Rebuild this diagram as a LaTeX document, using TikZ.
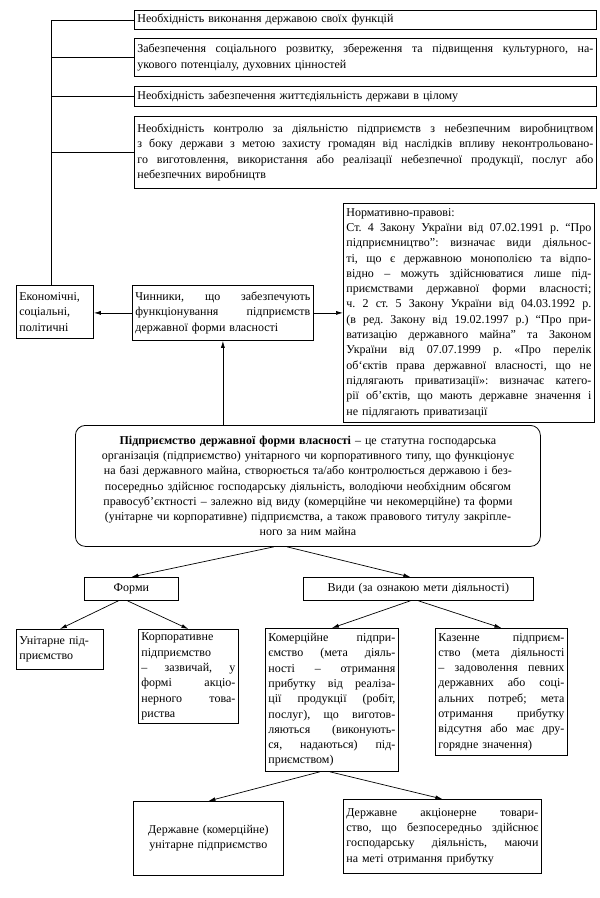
\documentclass[tikz,border=0pt]{standalone}
\usepackage{fontspec}
\setmainfont{Liberation Serif}
\usetikzlibrary{arrows.meta}
\newcommand{\jl}[1]{\leavevmode\hbox to\hsize{\spaceskip=0.25em plus 1em minus 0.06em\relax #1}\\}
\newcommand{\fs}{\fontsize{12}{15.3}\selectfont\frenchspacing}
\tikzset{
  box/.style={draw, line width=0.8pt, anchor=north west, inner xsep=3pt, inner ysep=2pt, font=\fs, align=left},
  arr/.style={line width=0.7pt, -{Latex[length=7pt,width=4pt]}},
  link/.style={line width=0.7pt},
}

\begin{document}
\begin{tikzpicture}[x=1pt,y=-1pt]
  %%%%% START %%%%%
  \useasboundingbox (0,0) rectangle (600,898);

  \node[box, text width=456, minimum height=19] (need1) at (134,10) {Необхідність виконання державою своїх функцій};
  \node[box, text width=456, minimum height=38] (need2) at (134,38) {\jl{Забезпечення соціального розвитку, збереження та підвищення культурного, на-}укового потенціалу, духовних цінностей};
  \node[box, text width=456, minimum height=20] (need3) at (134,86) {Необхідність забезпечення життєдіяльність держави в цілому};
  \node[box, text width=456, minimum height=72] (need4) at (134,116) {\jl{Необхідність контролю за діяльністю підприємств з небезпечним виробництвом}\jl{з боку держави з метою захисту громадян від наслідків впливу неконтрольовано-}\jl{го виготовлення, використання або реалізації небезпечної продукції, послуг або}небезпечних виробництв};

  \node[box, text width=71, minimum height=53] (econ) at (16,285) {Економічні,\\соціальні,\\політичні};
  \node[box, text width=175, minimum height=55] (chin) at (132,285) {\jl{Чинники, що забезпечують}\jl{функціонування підприємств}державної форми власності};
  \node[box, text width=245, minimum height=219] (norm) at (343,203) {Нормативно-правові:\\
    \jl{Ст. 4 Закону України від 07.02.1991 р. “Про}\jl{підприємництво”: визначає види діяльнос-}\jl{ті, що є державною монополією та відпо-}\jl{відно – можуть здійснюватися лише під-}\jl{приємствами державної форми власності;}\jl{ч. 2 ст. 5 Закону України від 04.03.1992 р.}\jl{(в ред. Закону від 19.02.1997 р.) “Про при-}\jl{ватизацію державного майна” та Законом}\jl{України від 07.07.1999 р. «Про перелік}\jl{об`єктів права державної власності, що не}\jl{підлягають приватизації»: визначає катего-}\jl{рії об’єктів, що мають державне значення і}не підлягають приватизації};

  \node[box, text width=457, inner xsep=4pt, minimum height=121, rounded corners=10pt, align=center] (pidpr) at (75,425) {\textbf{Підприємство державної форми власності} – це статутна господарська\\організація (підприємство) унітарного чи корпоративного типу, що функціонує\\на базі державного майна, створюється та/або контролюється державою і без-\\посередньо здійснює господарську діяльність, володіючи необхідним обсягом\\правосуб’єктності – залежно від виду (комерційне чи некомерційне) та форми\\(унітарне чи корпоративне) підприємства, а також правового титулу закріпле-\\ного за ним майна};

  \node[box, text width=88, minimum height=23, align=center] (formy) at (84,577) {Форми};
  \node[box, text width=224, minimum height=23, align=center] (vydy) at (303,577) {Види (за ознакою мети діяльності)};

  \node[box, text width=81, minimum height=40] (unit) at (16,629) {Унітарне під-\\приємство};
  \node[box, text width=94, minimum height=94] (korp) at (138,629) {Корпоративне\\підприємство\\\jl{– зазвичай, у}\jl{формі акціо-}\jl{нерного това-}риства};
  \node[box, text width=127, minimum height=143] (kom) at (265,628) {\jl{Комерційне підпри-}\jl{ємство (мета діяль-}\jl{ності – отримання}\jl{прибутку від реаліза-}\jl{ції продукції (робіт,}\jl{послуг), що виготов-}\jl{ляються (виконують-}\jl{ся, надаються) під-}приємством)};
  \node[box, text width=126, minimum height=127] (kaz) at (435,628) {\jl{Казенне підприєм-}\jl{ство (мета діяльності}\jl{– задоволення певних}\jl{державних або соці-}\jl{альних потреб; мета}\jl{отримання прибутку}\jl{відсутня або має дру-}горядне значення)};

  \node[box, text width=144, minimum height=74, align=center] (du) at (133,801) {Державне (комерційне)\\унітарне підприємство};
  \node[box, text width=192, minimum height=74] (dat) at (343,799) {\jl{Державне акціонерне товари-}\jl{ство, що безпосередньо здійснює}\jl{господарську діяльність, маючи}на меті отримання прибутку};

  % trunk to the top boxes
  \draw[link] ([xshift=-3.5pt]econ.north) -- ([xshift=-3.5pt]econ.north |- need1.west) -- (need1.west);
  \draw[link] ([xshift=-3.5pt]econ.north |- need2.west) -- (need2.west);
  \draw[link] ([xshift=-3.5pt]econ.north |- need3.west) -- (need3.west);
  \draw[link] ([xshift=-3.5pt]econ.north |- need4.west) -- (need4.west);

  \draw[arr] (chin.west) -- (chin.west -| econ.east);
  \draw[arr] (chin.east) -- (chin.east -| norm.west);
  \draw[arr] (pidpr.north -| chin.south) -- (chin.south);

  \draw[arr] ([xshift=-34pt]pidpr.south) -- (formy.north);
  \draw[arr] ([xshift=-21pt]pidpr.south) -- ([xshift=-8pt]vydy.north);

  \draw[arr] ([xshift=-13pt]formy.south) -- (unit.north);
  \draw[arr] ([xshift=-4pt]formy.south) -- (korp.north);
  \draw[arr] ([xshift=-8pt]vydy.south) -- (kom.north);
  \draw[arr] (vydy.south) -- (kaz.north);

  \draw[arr] ([xshift=-12pt]kom.south) -- (du.north);
  \draw[arr] ([xshift=-2pt]kom.south) -- (dat.north);
  %%%%% END %%%%%
\end{tikzpicture}
\end{document}
